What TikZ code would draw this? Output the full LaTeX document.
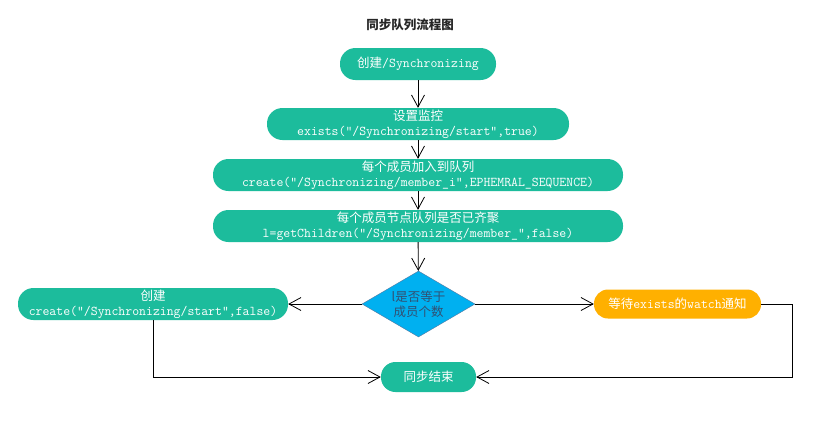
\documentclass[tikz,border=0pt]{standalone}
\usepackage{fontspec}
\setmonofont{Latin Modern Mono}
\newfontfamily\cjk{Noto Sans CJK SC}
\usetikzlibrary{arrows.meta,shapes.geometric}
\definecolor{flowgreen}{RGB}{28,188,156}
\definecolor{waitorange}{RGB}{255,176,0}
\definecolor{decblue}{RGB}{0,176,240}
\definecolor{decedge}{RGB}{85,120,160}
\definecolor{dectext}{RGB}{50,80,115}
\newcommand{\zh}[1]{{\cjk\fontsize{12.5}{15}\selectfont #1}}
\tikzset{
  pill/.style={fill=flowgreen,text=white,rounded corners=15.5pt,minimum height=32pt,inner sep=0pt,align=center,font=\ttfamily\fontsize{13.4}{15}\selectfont},
  decbox/.style={diamond,aspect=1.7,draw=decedge,fill=decblue,text=dectext,minimum width=113pt,minimum height=66pt,inner sep=0pt,align=center,font=\fontsize{12.5}{15}\selectfont},
  flow/.style={draw=black,line width=0.8pt,-{Straight Barb[length=12pt,width=13pt]}}
}

\begin{document}
\begin{tikzpicture}[x=1pt,y=-1pt]
	\useasboundingbox[fill=white] (0,0) rectangle (824,426);
	\node[text=black!85] (title) at (410,25) {\zh{\bfseries 同步队列流程图}};
	\node[pill,minimum width=156pt] (start) at (418,64) {\zh{创建}/Synchronizing};
	\node[pill,minimum width=302pt] (watch) at (418,124) {\zh{设置监控}\\exists(“/Synchronizing/start”,true)};
	\node[pill,minimum width=410pt] (join) at (418,175) {\zh{每个成员加入到队列}\\create(“/Synchronizing/member\_i”,EPHEMRAL\_SEQUENCE)};
	\node[pill,minimum width=410pt] (check) at (418,226) {\zh{每个成员节点队列是否已齐聚}\\l=getChildren(“/Synchronizing/member\_”,false)};
	\node[decbox] (dec) at (418.5,304) {\zh{l是否等于}\\\zh{成员个数}};
	\node[pill,minimum width=270pt] (create) at (153,304) {\zh{创建}\\create(“/Synchronizing/start”,false)};
	\node[pill,fill=waitorange,minimum width=167pt,minimum height=29pt,rounded corners=14pt] (wait) at (677.5,304) {\zh{等待}exists\zh{的}watch\zh{通知}};
	\node[pill,minimum width=95pt,minimum height=30pt,rounded corners=14.5pt] (done) at (428.5,377) {\zh{同步结束}};
	\coordinate (turn) at (792,304);
	\draw[flow] (start) -- (watch);
	\draw[flow] (watch) -- (join);
	\draw[flow] (join) -- (check);
	\draw[flow] (check) -- (dec);
	\draw[flow] (dec) -- (create);
	\draw[flow] (dec) -- (wait);
	\draw[flow] (create) |- (done);
	\draw[flow] (wait) -- (turn) |- (done);
\end{tikzpicture}
\end{document}
